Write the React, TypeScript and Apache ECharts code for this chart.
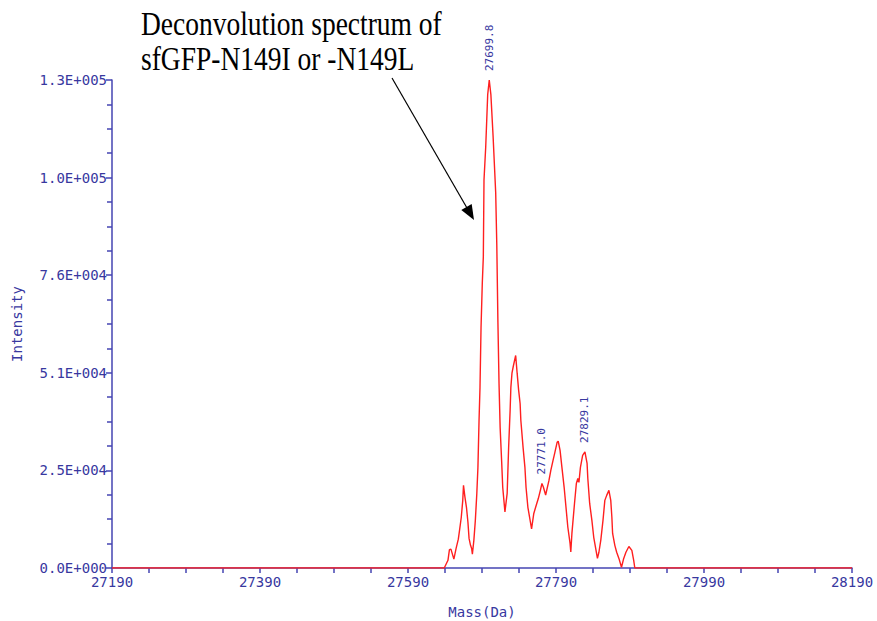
import React, { useEffect, useRef } from "react";
import * as echarts from "echarts";

// Deconvoluted mass spectrum (mass in Da, intensity in counts)
const massDa = [
  27190, 27639, 27644, 27646, 27648, 27652, 27655, 27658, 27660, 27662, 27664,
  27665, 27667, 27669, 27671, 27672.5, 27674.5, 27676, 27677, 27679, 27681,
  27683, 27684.5, 27686, 27687.3, 27688.7, 27690.4, 27691.8, 27692.7, 27695,
  27697.7, 27699.8, 27702, 27705, 27708.5, 27710, 27711.5, 27713, 27714.5,
  27716.5, 27718, 27721, 27724, 27726, 27728, 27729, 27730.5, 27732.5, 27735.5,
  27737.5, 27739.5, 27741.5, 27742.5, 27745.5, 27748, 27749.5, 27752, 27757,
  27760, 27764, 27766, 27769, 27771.0, 27773, 27776, 27780.5, 27783, 27786,
  27788.5, 27791.5, 27793, 27795.5, 27798, 27801, 27803.5, 27806, 27809, 27810,
  27811.5, 27815, 27817.5, 27819.5, 27821, 27823, 27826, 27829.1, 27832, 27833,
  27835.5, 27838.5, 27841, 27846, 27848, 27850.5, 27853.5, 27856, 27858.5,
  27861.5, 27864, 27865.5, 27866.5, 27869.5, 27872, 27875, 27878.5, 27881.5,
  27884.5, 27888.5, 27892.5, 27895, 27896.5, 28190,
];

const intensity = [
  0, 0, 2000, 4800, 4900, 2300, 5100, 7500, 10300, 13200, 17600,
  21500, 18400, 15800, 11900, 7700, 5900, 5100, 3600, 7200, 12400,
  19400, 26200, 38400, 47000, 62600, 74100, 81000, 101000, 109500,
  123200, 127000, 123200, 112300, 97700, 84000, 64000, 48100, 36600,
  28000, 21000, 14600, 19400, 31400, 41000, 47000, 50700, 52700, 55300,
  50700, 46300, 42800, 38400, 31400, 26200, 21000, 15800, 10200,
  14200, 16800, 18000, 20300, 22000, 21000, 19000, 22800, 25400, 28000,
  30100, 32700, 33000, 30600, 26200, 21000, 15800, 10600, 6400, 4200,
  9000, 16800, 22000, 23300, 22300, 26200, 29300, 30200, 27200, 23300,
  16800, 12400, 8000, 2500, 4100, 7200, 12400, 17600, 18900,
  20200, 17600, 13200, 9000, 5900, 4100, 2500, 200, 2500,
  4100, 5600, 4600, 2000, 0, 0,
];

// Peaks annotated with their centroid mass
const labeledPeaks = [27699.8, 27771.0, 27829.1];

// Axis ticks
const xTickLabels = [27190, 27390, 27590, 27790, 27990, 28190];
const xMinorStep = 50;
const yMax = 127000;
const yStep = 25400;

const titleLines = ["Deconvolution spectrum of", "sfGFP-N149I or -N149L"];

const AXIS_BLUE = "#4444b2";
const TEXT_BLUE = "#38389f";
const MONO = "'DejaVu Sans Mono', monospace";
const SERIF = "27.5px 'Liberation Serif', 'Times New Roman', serif";

function sci(v: number): string {
  if (v === 0) return "0.0E+000";
  let e = Math.floor(Math.log10(v));
  let m = Number((v / Math.pow(10, e)).toFixed(1));
  if (m >= 10) {
    m = m / 10;
    e += 1;
  }
  return `${m.toFixed(1)}E+${String(e).padStart(3, "0")}`;
}

export default function App() {
  const ref = useRef<HTMLDivElement>(null);

  useEffect(() => {
    if (!ref.current) return;
    const chart = echarts.init(ref.current, undefined, { renderer: "svg" });

    const xTicks: number[] = [];
    for (let v = xTickLabels[0]; v <= xTickLabels[xTickLabels.length - 1]; v += xMinorStep) {
      xTicks.push(v);
    }

    const data = massDa.map((m, i) => [m, intensity[i]]);

    const peakMarks = labeledPeaks.map((m) => ({
      coord: [m, intensity[massDa.indexOf(m)]],
      value: m.toFixed(1),
    }));

    chart.setOption({
      animation: false,
      backgroundColor: "#ffffff",
      grid: {
        left: 112,
        right: 25,
        top: 80,
        bottom: 53,
        containLabel: false,
        outerBoundsMode: "none",
      },
      xAxis: {
        type: "value",
        min: xTickLabels[0],
        max: xTickLabels[xTickLabels.length - 1],
        name: "Mass(Da)",
        nameLocation: "middle",
        nameGap: 37,
        nameTextStyle: { color: TEXT_BLUE, fontFamily: MONO, fontSize: 14 },
        axisLine: { show: true, lineStyle: { color: AXIS_BLUE, width: 1.5 } },
        axisTick: {
          show: true,
          length: 5,
          customValues: xTicks,
          lineStyle: { color: AXIS_BLUE, width: 1.5 },
        },
        axisLabel: {
          customValues: xTickLabels,
          color: TEXT_BLUE,
          fontFamily: MONO,
          fontSize: 14,
          margin: 7,
          formatter: (v: number) => String(v),
        },
        splitLine: { show: false },
      },
      yAxis: {
        type: "value",
        min: 0,
        max: yMax,
        interval: yStep,
        name: "Intensity",
        nameLocation: "middle",
        nameGap: 88,
        nameTextStyle: { color: TEXT_BLUE, fontFamily: MONO, fontSize: 14 },
        axisLine: { show: true, lineStyle: { color: AXIS_BLUE, width: 1.5 } },
        axisTick: { show: true, length: 6, lineStyle: { color: AXIS_BLUE, width: 1.5 } },
        minorTick: { show: true, splitNumber: 4, length: 5, lineStyle: { color: AXIS_BLUE, width: 1.5 } },
        axisLabel: {
          color: TEXT_BLUE,
          fontFamily: MONO,
          fontSize: 14,
          margin: 5,
          formatter: (v: number) => sci(v),
        },
        splitLine: { show: false },
        minorSplitLine: { show: false },
      },
      series: [
        {
          type: "line",
          data,
          showSymbol: false,
          symbol: "none",
          lineStyle: { color: "#ff1f1f", width: 1.4 },
          z: 3,
          markPoint: {
            symbol: "circle",
            symbolSize: 0,
            silent: true,
            itemStyle: { color: "transparent" },
            label: {
              show: true,
              position: "top",
              distance: 9,
              rotate: 90,
              align: "left",
              verticalAlign: "middle",
              color: TEXT_BLUE,
              fontFamily: MONO,
              fontSize: 11,
              formatter: (p: any) => p.value,
            },
            data: peakMarks,
          },
        },
      ],
      graphic: [
        {
          type: "text",
          x: 141,
          y: 24,
          scaleY: 1.2,
          style: {
            text: titleLines[0],
            fill: "#000",
            font: SERIF,
            align: "left",
            verticalAlign: "middle",
          },
        },
        {
          type: "text",
          x: 141,
          y: 59,
          scaleY: 1.2,
          style: {
            text: titleLines[1],
            fill: "#000",
            font: SERIF,
            align: "left",
            verticalAlign: "middle",
          },
        },
        {
          type: "line",
          shape: { x1: 392, y1: 78, x2: 467, y2: 208 },
          style: { stroke: "#000", lineWidth: 1.2 },
        },
        {
          type: "polygon",
          shape: { points: [[474, 220], [461.3, 210], [471.7, 204]] },
          style: { fill: "#000" },
        },
      ],
    });

    return () => chart.dispose();
  }, []);

  return (
    <div
      ref={ref}
      style={{ position: "absolute", left: 0, top: 0, width: 877, height: 621 }}
    />
  );
}
